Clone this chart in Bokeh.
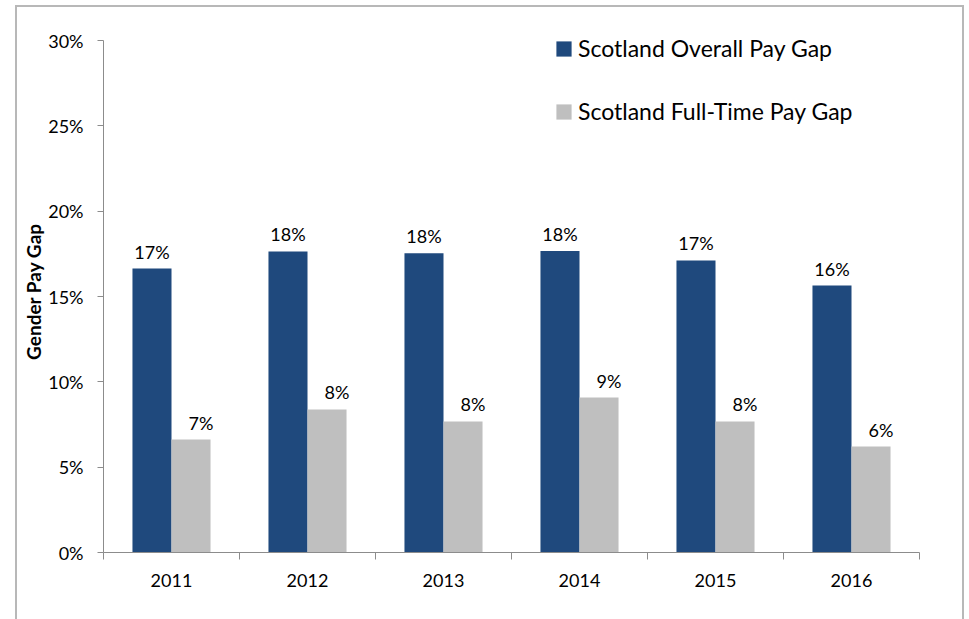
from bokeh.plotting import figure
from bokeh.models import (ColumnDataSource, FixedTicker, NumeralTickFormatter, Legend,
                          LegendItem, Range1d)
from bokeh.transform import dodge
from bokeh.embed import file_html
from bokeh.resources import INLINE
from bokeh.core.properties import value

# ---- data ----
years = ["2011", "2012", "2013", "2014", "2015", "2016"]
overall_gap = [16.64, 17.64, 17.54, 17.66, 17.11, 15.64]   # % Scotland overall
fulltime_gap = [6.62, 8.38, 7.68, 9.08, 7.68, 6.21]        # % Scotland full-time
y_ticks = [0, 5, 10, 15, 20, 25, 30]
series_names = ["Scotland Overall Pay Gap", "Scotland Full-Time Pay Gap"]
y_title = "Gender Pay Gap"

BLUE = "#1F497D"
GREY = "#BFBFBF"
AXIS = "#8c8c8c"
FONT = "Lato"

pos = list(range(1, len(years) + 1))
src = ColumnDataSource(dict(
    x=pos,
    overall=[v / 100 for v in overall_gap],
    fulltime=[v / 100 for v in fulltime_gap],
    ov_lab=[f"{round(v)}%" for v in overall_gap],
    ft_lab=[f"{round(v)}%" for v in fulltime_gap],
))

bar_w = 0.287
y_max = y_ticks[-1] / 100
extra_px = 10                       # headroom above the 30% tick inside the frame
frame_h = 512
y_top = y_max * (frame_h + extra_px) / frame_h

p = figure(frame_width=816, frame_height=frame_h + extra_px, width=945, height=612,
           x_range=Range1d(0.5, len(years) + 0.5), y_range=Range1d(0, y_top),
           output_backend="svg", toolbar_location=None,
           min_border_left=86, min_border_right=43, min_border_top=33 - extra_px,
           min_border_bottom=67)
p.margin = (7, 0, 0, 17)
p.styles = {"outline": "2px solid #b8b8b8"}
p.outline_line_color = None
p.xgrid.visible = False
p.ygrid.visible = False
p.background_fill_color = "white"
p.border_fill_color = "white"

r1 = p.vbar(x=dodge("x", -bar_w / 2, range=p.x_range), top="overall", width=bar_w,
            source=src, fill_color=BLUE, line_color=None)
r2 = p.vbar(x=dodge("x", bar_w / 2, range=p.x_range), top="fulltime", width=bar_w,
            source=src, fill_color=GREY, line_color=None)

p.text(x=dodge("x", -bar_w / 2, range=p.x_range), y="overall", text="ov_lab", source=src,
       text_align="center", text_baseline="alphabetic", y_offset=-17,
       text_font=value(FONT), text_font_size="18px", text_color="black")
p.text(x=dodge("x", bar_w / 2, range=p.x_range), y="fulltime", text="ft_lab", source=src,
       text_align="center", text_baseline="alphabetic", y_offset=-17, x_offset=10,
       text_font=value(FONT), text_font_size="18px", text_color="black")

# y axis
ya = p.yaxis[0]
ya.bounds = (0, y_max)
ya.ticker = FixedTicker(ticks=[t / 100 for t in y_ticks], minor_ticks=[])
ya.formatter = NumeralTickFormatter(format="0%")
ya.axis_line_color = AXIS
ya.major_tick_line_color = AXIS
ya.major_tick_out = 6
ya.major_tick_in = 0
ya.minor_tick_line_color = None
ya.major_label_standoff = 14
ya.major_label_text_font = FONT
ya.major_label_text_font_size = "18px"
ya.major_label_text_color = "black"
ya.axis_label = y_title
ya.axis_label_text_font = FONT
ya.axis_label_text_font_size = "19px"
ya.axis_label_text_font_style = "bold"
ya.axis_label_text_color = "black"
ya.axis_label_standoff = 0

# x axis
xa = p.xaxis[0]
xa.ticker = FixedTicker(ticks=pos, minor_ticks=[v + 0.5 for v in [0] + pos])
xa.major_label_overrides = {k: y for k, y in zip(pos, years)}
xa.axis_line_color = AXIS
xa.major_tick_line_color = None
xa.minor_tick_line_color = AXIS
xa.minor_tick_out = 7
xa.minor_tick_in = 0
xa.major_label_standoff = 14
xa.major_label_text_font = FONT
xa.major_label_text_font_size = "18px"
xa.major_label_text_color = "black"

legend = Legend(items=[LegendItem(label=series_names[0], renderers=[r1]),
                       LegendItem(label=series_names[1], renderers=[r2])],
                location=(451, 427), orientation="vertical",
                glyph_width=19, glyph_height=19, label_standoff=5, spacing=35,
                padding=0, margin=0, border_line_color=None, background_fill_alpha=0,
                label_text_font=FONT, label_text_font_size="23px", label_text_color="black")
p.add_layout(legend)

open("out.html", "w").write(file_html(p, INLINE))
